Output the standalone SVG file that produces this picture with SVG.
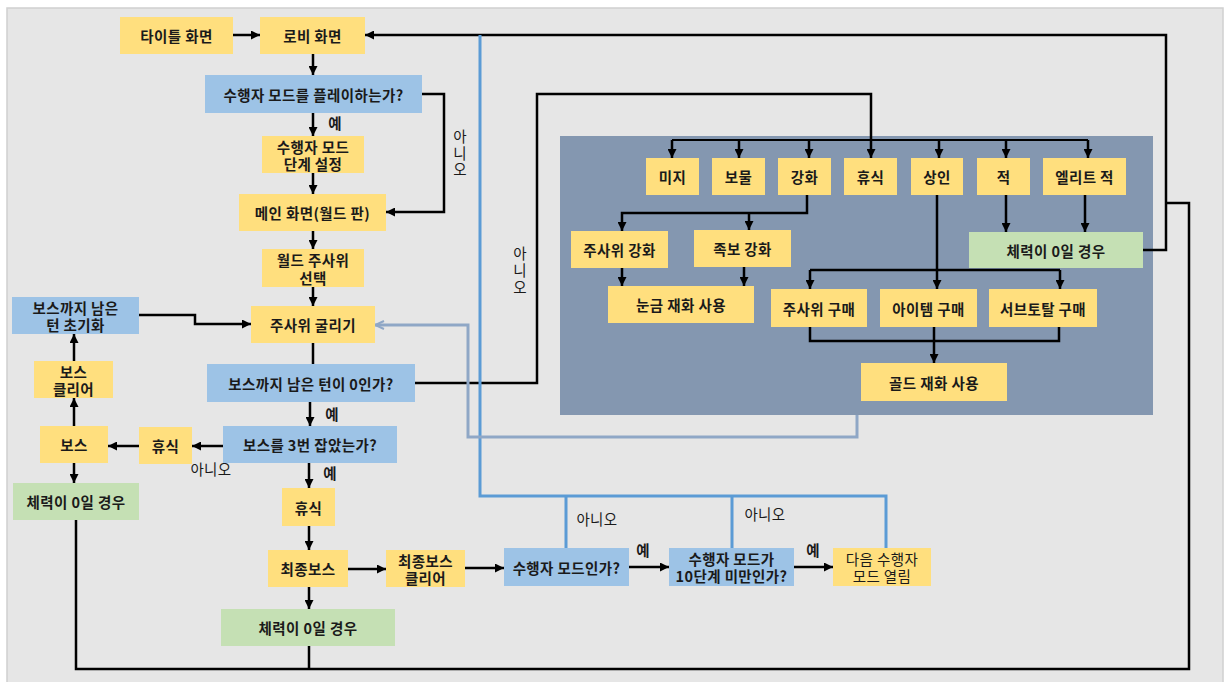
<svg xmlns="http://www.w3.org/2000/svg" width="1225" height="682" viewBox="0 0 1225 682">
<style>
text{font-family:"Noto Sans CJK KR","Malgun Gothic",sans-serif;font-size:14.5px;letter-spacing:0.4px;fill:#1a1a1a;text-anchor:middle;dominant-baseline:central;font-weight:700}
.lbl{font-weight:400}
.yes{font-weight:700}
.y{fill:#ffdf7e}
.b{fill:#9dc3e6}
.g{fill:#c5e0b4}
.k{fill:none;stroke:#000;stroke-width:2.5}
.ka{fill:none;stroke:#000;stroke-width:2.5;marker-end:url(#ah)}
.bl{fill:none;stroke:#5b9bd5;stroke-width:3}
.gb{fill:none;stroke:#8fa7c6;stroke-width:3;marker-end:url(#ag)}
</style>
<defs>
<marker id="ah" viewBox="0 0 10 10" refX="10" refY="5" markerWidth="9" markerHeight="9" markerUnits="userSpaceOnUse" orient="auto"><path d="M0,0 L10,5 L0,10 z" fill="#000"/></marker>
<marker id="ag" viewBox="0 0 10 10" refX="10" refY="5" markerWidth="10" markerHeight="10" markerUnits="userSpaceOnUse" orient="auto"><path d="M1,1 L10,5 L1,9" fill="none" stroke="#8fa7c6" stroke-width="2"/></marker>
</defs>
<rect x="0" y="0" width="1225" height="682" fill="#fff"/>
<rect x="7" y="8" width="1216" height="676" fill="#e6e6e6" stroke="#d0d0d0" stroke-width="1.5"/>
<g id="panel"><rect x="560" y="136" width="593" height="279" fill="#8497b0"/></g>
<g id="connectors">
<path class="ka" d="M233,35 H260"/>
<path class="ka" d="M313,54 V75"/>
<path class="ka" d="M313,113 V136"/>
<path class="ka" d="M313,173 V194"/>
<path class="ka" d="M422,94 H444 V212 H386"/>
<path class="ka" d="M313,231 V249"/>
<path class="ka" d="M313,287 V306"/>
<path class="k" d="M313,343 V364"/>
<path class="ka" d="M310,402 V426"/>
<path class="ka" d="M223,446 H192"/>
<path class="ka" d="M139,446 H108"/>
<path class="ka" d="M74,426 V398"/>
<path class="ka" d="M74,361 V334"/>
<path class="ka" d="M139,315 H195 V324 H251"/>
<path class="ka" d="M74,463 V483"/>
<path class="ka" d="M309,463 V488"/>
<path class="ka" d="M309,526 V550"/>
<path class="ka" d="M348,569 H386"/>
<path class="ka" d="M309,587 V609"/>
<path class="ka" d="M465,568 H504"/>
<path class="ka" d="M629,567 H669"/>
<path class="ka" d="M794,567 H833"/>
<path class="ka" d="M415,383 H537 V94 H871 V158"/>
<path class="k" d="M672,140 H1088" style="stroke-width:2"/>
<path class="ka" d="M672,140 V158"/>
<path class="ka" d="M739,140 V158"/>
<path class="ka" d="M809,140 V158"/>
<path class="ka" d="M939,140 V158"/>
<path class="ka" d="M1006,140 V158"/>
<path class="ka" d="M1088,140 V158"/>
<path class="ka" d="M807,195 V213 H622 V231"/>
<path class="ka" d="M749,213 V230"/>
<path class="ka" d="M622,268 V286"/>
<path class="ka" d="M744,267 V286"/>
<path class="k" d="M937,195 V270"/>
<path class="k" d="M810,270 H1060"/>
<path class="ka" d="M810,270 V289"/>
<path class="ka" d="M937,270 V289"/>
<path class="ka" d="M1060,270 V289"/>
<path class="k" d="M810,327 V341 H1059 V327"/>
<path class="ka" d="M934,327 V363"/>
<path class="ka" d="M1006,195 V232"/>
<path class="ka" d="M1085,195 V232"/>
<path class="ka" d="M1143,250 H1166 V35 H365"/>
<path class="k" d="M76,520 V669 H1189 V203 H1166"/>
<path class="k" d="M309,646 V669"/>
<path class="bl" d="M480,35 V496 H886 V548"/>
<path class="bl" d="M566,496 V548"/>
<path class="bl" d="M732,496 V548"/>
<path class="gb" d="M857,415 V437 H468 V325 H375"/>
<text class="yes" x="335" y="122">예</text>
<text class="yes" x="332" y="413">예</text>
<text class="yes" x="330" y="472">예</text>
<text class="yes" x="643" y="549">예</text>
<text class="yes" x="813" y="549">예</text>
<text class="lbl" x="460" y="135">아<tspan x="460" dy="16.5">니</tspan><tspan x="460" dy="16.5">오</tspan></text>
<text class="lbl" x="520" y="252">아<tspan x="520" dy="17">니</tspan><tspan x="520" dy="17">오</tspan></text>
<text class="lbl" x="211" y="468">아니오</text>
<text class="lbl" x="597" y="518">아니오</text>
<text class="lbl" x="765" y="513">아니오</text>
</g>
<g id="n-title"><rect class="y" x="120" y="17" width="113" height="37"/><text x="176.5" y="35.5">타이틀 화면</text></g>
<g id="n-lobby"><rect class="y" x="260" y="17" width="105" height="37"/><text x="312.5" y="35.5">로비 화면</text></g>
<g id="n-q-mode"><rect class="b" x="205" y="75" width="217" height="38"/><text x="313.5" y="94">수행자 모드를 플레이하는가?</text></g>
<g id="n-stage"><rect class="y" x="262" y="136" width="102" height="37"/><text x="313" y="146">수행자 모드<tspan x="313" dy="17">단계 설정</tspan></text></g>
<g id="n-main"><rect class="y" x="239" y="194" width="147" height="37"/><text x="312.5" y="212.5">메인 화면(월드 판)</text></g>
<g id="n-world"><rect class="y" x="262" y="249" width="102" height="38"/><text x="313" y="259.5">월드 주사위<tspan x="313" dy="17">선택</tspan></text></g>
<g id="n-roll"><rect class="y" x="251" y="306" width="124" height="37"/><text x="313" y="324.5">주사위 굴리기</text></g>
<g id="n-reset"><rect class="b" x="12" y="297" width="127" height="37"/><text x="75.5" y="307">보스까지 남은<tspan x="75.5" dy="17">턴 초기화</tspan></text></g>
<g id="n-q-turn"><rect class="b" x="207" y="364" width="208" height="38"/><text x="311" y="383">보스까지 남은 턴이 0인가?</text></g>
<g id="n-bossclear"><rect class="y" x="34" y="361" width="79" height="37"/><text x="73.5" y="371">보스<tspan x="73.5" dy="17">클리어</tspan></text></g>
<g id="n-q-boss3"><rect class="b" x="223" y="426" width="174" height="37"/><text x="310" y="444.5">보스를 3번 잡았는가?</text></g>
<g id="n-rest-l"><rect class="y" x="139" y="427" width="53" height="37"/><text x="165.5" y="445.5">휴식</text></g>
<g id="n-boss"><rect class="y" x="40" y="426" width="68" height="37"/><text x="74" y="444.5">보스</text></g>
<g id="n-hp-l"><rect class="g" x="13" y="483" width="126" height="37"/><text x="76" y="501.5">체력이 0일 경우</text></g>
<g id="n-rest-c"><rect class="y" x="282" y="488" width="53" height="38"/><text x="308.5" y="507">휴식</text></g>
<g id="n-final"><rect class="y" x="268" y="550" width="80" height="37"/><text x="308" y="568.5">최종보스</text></g>
<g id="n-finalclear"><rect class="y" x="386" y="550" width="79" height="37"/><text x="425.5" y="560">최종보스<tspan x="425.5" dy="17">클리어</tspan></text></g>
<g id="n-hp-c"><rect class="g" x="221" y="609" width="174" height="37"/><text x="308" y="627.5">체력이 0일 경우</text></g>
<g id="n-q-ismode"><rect class="b" x="504" y="548" width="125" height="38"/><text x="566.5" y="567">수행자 모드인가?</text></g>
<g id="n-q-lt10"><rect class="b" x="669" y="548" width="125" height="38"/><text x="731.5" y="558">수행자 모드가<tspan x="731.5" dy="17">10단계 미만인가?</tspan></text></g>
<g id="n-next"><rect class="y" x="833" y="548" width="98" height="38"/><text class="lbl" x="882" y="558">다음 수행자<tspan x="882" dy="17">모드 열림</tspan></text></g>
<g id="n-unknown"><rect class="y" x="646" y="158" width="53" height="37"/><text x="672.5" y="176.5">미지</text></g>
<g id="n-treasure"><rect class="y" x="712" y="158" width="53" height="37"/><text x="738.5" y="176.5">보물</text></g>
<g id="n-upgrade"><rect class="y" x="778" y="158" width="53" height="37"/><text x="804.5" y="176.5">강화</text></g>
<g id="n-rest-p"><rect class="y" x="844" y="158" width="53" height="37"/><text x="870.5" y="176.5">휴식</text></g>
<g id="n-merchant"><rect class="y" x="911" y="158" width="52" height="37"/><text x="937" y="176.5">상인</text></g>
<g id="n-enemy"><rect class="y" x="977" y="158" width="53" height="37"/><text x="1003.5" y="176.5">적</text></g>
<g id="n-elite"><rect class="y" x="1043" y="158" width="83" height="37"/><text x="1084.5" y="176.5">엘리트 적</text></g>
<g id="n-dice-up"><rect class="y" x="571" y="231" width="97" height="37"/><text x="619.5" y="249.5">주사위 강화</text></g>
<g id="n-combo-up"><rect class="y" x="694" y="230" width="97" height="37"/><text x="742.5" y="248.5">족보 강화</text></g>
<g id="n-tick"><rect class="y" x="608" y="286" width="146" height="37"/><text x="681" y="304.5">눈금 재화 사용</text></g>
<g id="n-hp-r"><rect class="g" x="969" y="232" width="174" height="36"/><text x="1056" y="250">체력이 0일 경우</text></g>
<g id="n-buy-dice"><rect class="y" x="771" y="289" width="96" height="38"/><text x="819" y="308">주사위 구매</text></g>
<g id="n-buy-item"><rect class="y" x="880" y="289" width="97" height="38"/><text x="928.5" y="308">아이템 구매</text></g>
<g id="n-buy-sub"><rect class="y" x="989" y="289" width="108" height="38"/><text x="1043" y="308">서브토탈 구매</text></g>
<g id="n-gold"><rect class="y" x="861" y="363" width="146" height="38"/><text x="934" y="382">골드 재화 사용</text></g>
</svg>
